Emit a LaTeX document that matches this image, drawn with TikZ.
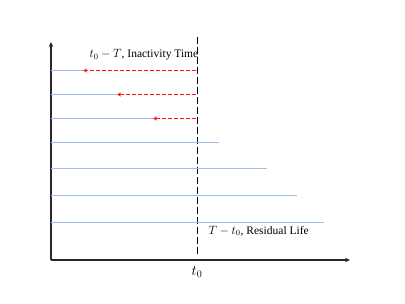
\documentclass[tikz,border=0pt]{standalone}
\usepackage{fontspec}
\setmainfont{Liberation Serif}
\usetikzlibrary{arrows.meta,positioning}
\definecolor{lifeblue}{RGB}{160,192,230}
\definecolor{axisgray}{RGB}{40,40,40}
\definecolor{backred}{RGB}{255,20,20}

\begin{document}
\begin{tikzpicture}[x=1pt,y=1pt,every node/.style={font=\fontsize{11.5}{13}\selectfont},
  axis/.style={axisgray,line width=1.3pt,-{Stealth[length=5pt,width=4.5pt]}},
  life/.style={lifeblue,line width=0.8pt},
  back/.style={draw=backred,line width=1.1pt,dash pattern=on 4pt off 2pt,-{Stealth[length=4pt,width=4pt,fill=backred]}}]
  \useasboundingbox (-51,-44) rectangle (354,260);
  % axes
  \coordinate (o) at (0,0);
  \coordinate (ytip) at (0,218);
  \coordinate (xtip) at (299,0);
  \draw[axis] (o) -- (ytip);
  \draw[axis] (o) -- (xtip);
  % observation time
  \coordinate (now top) at (146,223);
  \coordinate (now bot) at (146,5);
  \draw[black,line width=0.8pt,dash pattern=on 7pt off 3pt] (now top) -- (now bot);
  \node (t0) at (146,-12) {\fontsize{14}{15}\selectfont$t_0$};
  % lifetimes
  \foreach \y/\e [count=\i] in {189.5/32,165.5/66,141.5/102,117.5/168,91.5/216,64.5/246,37.5/273} {
    \coordinate (s\i) at (0,\y);
    \coordinate (e\i) at (\e,\y);
    \coordinate (n\i) at (145.5,\y);
    \draw[life] (s\i) -- (e\i);
  }
  % inactivity
  \foreach \i in {1,2,3} {
    \draw[back] (n\i) -- (e\i);
  }
  \node[anchor=west] (inact) at (35,205) {$t_0-T$,\ Inactivity Time};
  \node[anchor=west] (resid) at (154,29) {$T-t_0$,\ Residual Life};
\end{tikzpicture}
\end{document}
